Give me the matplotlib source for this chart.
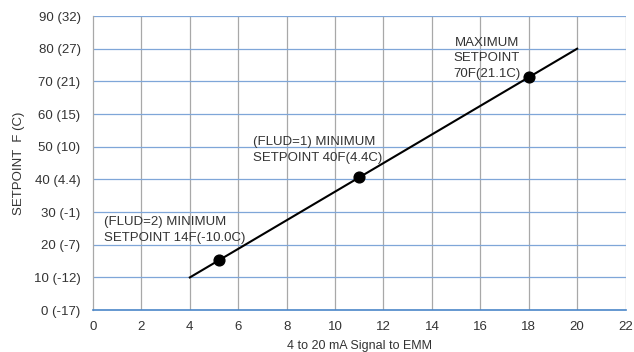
import matplotlib
matplotlib.use('Agg')
import matplotlib.pyplot as plt

plt.rcParams['font.family'] = ['Liberation Sans', 'DejaVu Sans']

# data
line_x = [4, 20]
line_y = [10, 80]
point_x = [5.2, 11, 18]
point_y = [15.25, 40.6, 71.25]
x_ticks = [0, 2, 4, 6, 8, 10, 12, 14, 16, 18, 20, 22]
y_ticks = [0, 10, 20, 30, 40, 50, 60, 70, 80, 90]
y_labels = ['0 (-17)', '10 (-12)', '20 (-7)', '30 (-1)', '40 (4.4)',
            '50 (10)', '60 (15)', '70 (21)', '80 (27)', '90 (32)']

txt_color = '#333333'
fs = 9.5

fig = plt.figure(figsize=(6.34, 3.52), dpi=100)
ax = fig.add_axes([0.1467, 0.119, 0.84, 0.8355])

# grid: gray verticals, blue horizontals
for x in x_ticks[1:]:
    ax.axvline(x, color='#a8a8a8', lw=0.9, zorder=1)
for y in y_ticks[1:]:
    ax.axhline(y, color='#7fa6d8', lw=0.9, zorder=1)

ax.plot(line_x, line_y, color='black', lw=1.5, zorder=3)
ax.scatter(point_x, point_y, s=60, color='black', zorder=4)

ax.set_xlim(0, 22)
ax.set_ylim(0, 90)
ax.set_xticks(x_ticks)
ax.set_yticks(y_ticks)
ax.set_yticklabels(y_labels)
ax.tick_params(length=0, labelsize=fs, colors=txt_color)
ax.tick_params(axis='y', pad=9)
ax.tick_params(axis='x', pad=8)

for s in ['top', 'right']:
    ax.spines[s].set_visible(False)
ax.spines['left'].set_color('#a8a8a8')
ax.spines['left'].set_linewidth(0.9)
ax.spines['bottom'].set_color('#4a86c8')
ax.spines['bottom'].set_linewidth(1.2)

ax.set_xlabel('4 to 20 mA Signal to EMM', fontsize=fs - 0.5, color=txt_color, labelpad=5)
ax.set_ylabel('SETPOINT  F (C)', fontsize=fs, color=txt_color, labelpad=6)

ax.text(0.45, 24.5, '(FLUD=2) MINIMUM\nSETPOINT 14F(-10.0C)', fontsize=fs,
        color=txt_color, ha='left', va='center', linespacing=1.4, zorder=5)
ax.text(6.6, 49, '(FLUD=1) MINIMUM\nSETPOINT 40F(4.4C)', fontsize=fs,
        color=txt_color, ha='left', va='center', linespacing=1.4, zorder=5)
ax.text(16.26, 77, 'MAXIMUM\nSETPOINT\n70F(21.1C)', fontsize=fs,
        color=txt_color, ha='center', va='center', linespacing=1.4, zorder=5)

fig.savefig('out.png', dpi=100)
